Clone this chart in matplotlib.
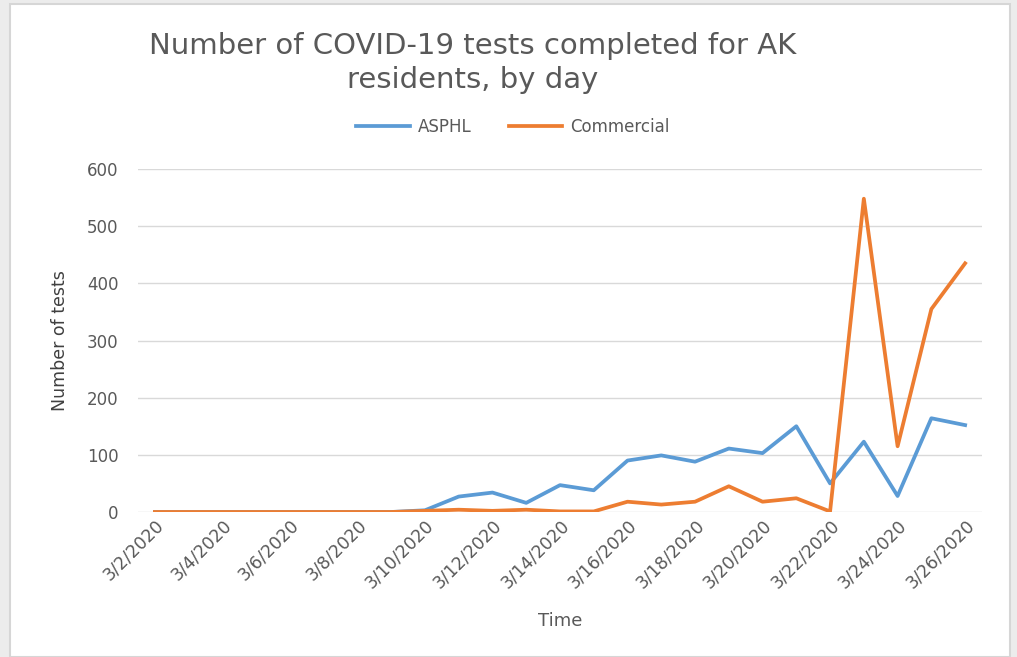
import matplotlib
matplotlib.use('Agg')
import matplotlib.pyplot as plt
from matplotlib.patches import Rectangle

# Daily test counts, 3/2/2020 - 3/26/2020
dates = ['3/%d/2020' % d for d in range(2, 27)]
asphl = [0, 0, 0, 0, 0, 0, 0, 0, 3, 27, 34, 16, 47, 38, 90, 99, 88,
         111, 103, 150, 50, 123, 28, 164, 152]
commercial = [0, 0, 0, 0, 0, 0, 0, 0, 2, 4, 2, 4, 1, 1, 18, 13, 18,
              45, 18, 24, 1, 548, 115, 355, 435]
yticks = [0, 100, 200, 300, 400, 500, 600]

font = ['Liberation Sans Narrow', 'DejaVu Sans']
grey = '#595959'

fig = plt.figure(figsize=(10.17, 6.57), dpi=100)
fig.patch.set_facecolor('#ececec')
fig.patches.append(Rectangle((10 / 1017, 0), 1000 / 1017, 653 / 657,
                             transform=fig.transFigure, facecolor='white',
                             edgecolor='#d6d6d6', linewidth=1.5, zorder=-5))

ax = fig.add_axes([138 / 1017, 1 - 512 / 657, 844 / 1017, 343 / 657])
ax.set_zorder(2)
ax.set_facecolor('none')
x = list(range(len(dates)))
ax.plot(x, asphl, color='#5B9BD5', lw=2.7, label='ASPHL', solid_joinstyle='round')
ax.plot(x, commercial, color='#ED7D31', lw=2.7, label='Commercial', solid_joinstyle='round')

ax.set_xlim(-0.5, len(dates) - 0.5)
ax.set_ylim(0, 600)
ax.set_yticks(yticks)
ax.set_yticklabels([str(v) for v in yticks], fontsize=12, color=grey)
ax.set_xticks(x[::2])
ax.set_xticklabels(dates[::2], rotation=45, ha='right', rotation_mode='anchor',
                   fontsize=12.5, color=grey, family=font)
ax.tick_params(length=0, pad=14)
ax.tick_params(axis='x', pad=3)
ax.grid(axis='y', color='#d9d9d9', lw=1)
for s in ax.spines.values():
    s.set_visible(False)

ax.set_ylabel('Number of tests', fontsize=12.5, color='#404040', family=font, labelpad=13)
fig.text(560 / 1017, 1 - 621 / 657, 'Time', ha='center', va='center',
         fontsize=13, color=grey, family=font)

fig.text(473 / 1017, 1 - 63 / 657, 'Number of COVID-19 tests completed for AK\nresidents, by day',
         ha='center', va='center', fontsize=21, color=grey, family=font,
         linespacing=1.3)

fig.legend(loc='center', bbox_to_anchor=(513 / 1017, 1 - 127 / 657), ncol=2,
           frameon=False, fontsize=12, labelcolor=grey, handlelength=3.2,
           columnspacing=2.2, handletextpad=0.5)

plt.savefig('out.png', dpi=100, facecolor=fig.get_facecolor())
